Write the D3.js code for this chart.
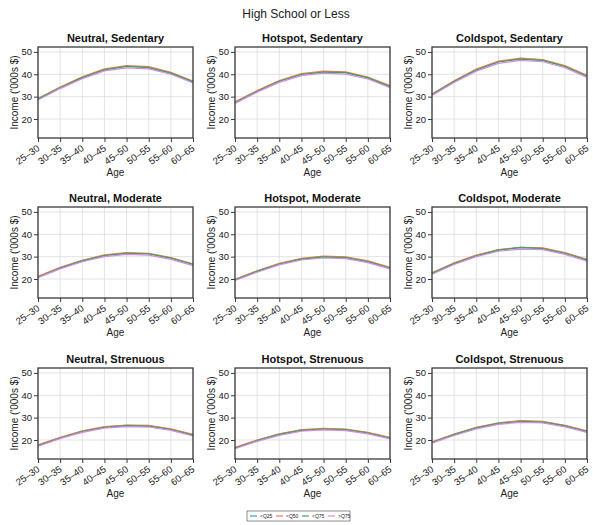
<!DOCTYPE html>
<html>
<head>
    <title>High School or Less</title>
    <script src="https://d3js.org/d3.v7.min.js"></script>
    <style>
        body { margin: 0; background: #fff; }
        svg { font-family: "Liberation Sans", Arial, sans-serif; }
    </style>
</head>
<body>
    <div id="chart"></div>

    <script>
        // Age groups (x categories)
        var ageGroups = ["25\u201330", "30\u201335", "35\u201340", "40\u201345", "45\u201350", "50\u201355", "55\u201360", "60\u201365"];

        // Quartile series names and colours
        var seriesNames = ["<Q25", "<Q50", "<Q75", ">Q75"];
        var seriesColors = ["#2c9fe0", "#f07c4c", "#3ba55c", "#d68ae8"];

        // y ticks
        var yTicks = [20, 30, 40, 50];

        // panel titles, row by row
        var panelTitles = [
            "Neutral, Sedentary", "Hotspot, Sedentary", "Coldspot, Sedentary",
            "Neutral, Moderate", "Hotspot, Moderate", "Coldspot, Moderate",
            "Neutral, Strenuous", "Hotspot, Strenuous", "Coldspot, Strenuous"
        ];

        // income per panel: rows are <Q25, <Q50, <Q75, >Q75
        var neutralSedentary = [
            [29.0, 34.1, 38.6, 42.1, 43.6, 43.1, 40.6, 36.7],
            [29.2, 34.3, 38.9, 42.4, 43.9, 43.4, 40.9, 37.0],
            [28.9, 34.0, 38.5, 42.0, 43.5, 43.0, 40.5, 36.6],
            [28.5, 33.6, 38.0, 41.5, 42.9, 42.4, 40.0, 36.1]
        ];
        var hotspotSedentary = [
            [27.5, 32.5, 37.0, 40.0, 41.1, 40.8, 38.5, 34.6],
            [27.7, 32.7, 37.2, 40.3, 41.4, 41.1, 38.8, 34.9],
            [27.4, 32.4, 36.9, 39.9, 41.0, 40.7, 38.4, 34.5],
            [27.0, 32.0, 36.4, 39.4, 40.5, 40.1, 37.9, 34.0]
        ];
        var coldspotSedentary = [
            [31.0, 36.9, 42.0, 45.6, 46.9, 46.3, 43.6, 39.2],
            [31.2, 37.1, 42.3, 45.9, 47.2, 46.6, 43.9, 39.5],
            [30.9, 36.8, 41.9, 45.5, 46.8, 46.2, 43.5, 39.1],
            [30.5, 36.3, 41.4, 44.9, 46.2, 45.6, 42.9, 38.6]
        ];
        var neutralModerate = [
            [21.0, 25.0, 28.2, 30.6, 31.6, 31.3, 29.4, 26.6],
            [21.2, 25.2, 28.4, 30.8, 31.8, 31.5, 29.6, 26.8],
            [20.9, 24.9, 28.1, 30.5, 31.5, 31.2, 29.3, 26.5],
            [20.6, 24.5, 27.7, 30.0, 31.0, 30.7, 28.8, 26.0]
        ];
        var hotspotModerate = [
            [19.7, 23.5, 26.8, 29.0, 30.0, 29.7, 27.9, 25.0],
            [19.9, 23.7, 27.0, 29.2, 30.2, 29.9, 28.1, 25.2],
            [19.6, 23.4, 26.7, 28.9, 29.9, 29.6, 27.8, 24.9],
            [19.3, 23.0, 26.3, 28.5, 29.4, 29.1, 27.3, 24.5]
        ];
        var coldspotModerate = [
            [22.6, 27.0, 30.5, 33.0, 34.0, 33.7, 31.6, 28.6],
            [22.8, 27.2, 30.7, 33.2, 34.2, 33.9, 31.8, 28.8],
            [22.5, 26.9, 30.4, 32.9, 34.1, 33.6, 31.5, 28.5],
            [22.1, 26.5, 30.0, 32.4, 33.4, 33.1, 31.0, 28.0]
        ];
        var neutralStrenuous = [
            [17.6, 21.0, 23.9, 25.8, 26.5, 26.3, 24.8, 22.3],
            [17.8, 21.2, 24.1, 26.0, 26.7, 26.5, 25.0, 22.5],
            [17.5, 20.9, 23.8, 25.7, 26.4, 26.2, 24.7, 22.2],
            [17.2, 20.6, 23.4, 25.3, 26.0, 25.8, 24.3, 21.8]
        ];
        var hotspotStrenuous = [
            [16.5, 19.8, 22.6, 24.4, 25.0, 24.7, 23.2, 21.0],
            [16.7, 20.0, 22.8, 24.6, 25.2, 24.9, 23.4, 21.2],
            [16.4, 19.7, 22.5, 24.3, 24.9, 24.6, 23.1, 20.9],
            [16.1, 19.4, 22.1, 23.9, 24.5, 24.2, 22.7, 20.5]
        ];
        var coldspotStrenuous = [
            [19.0, 22.5, 25.5, 27.5, 28.4, 28.1, 26.4, 23.9],
            [19.2, 22.7, 25.7, 27.7, 28.7, 28.3, 26.6, 24.1],
            [18.9, 22.4, 25.4, 27.4, 28.3, 28.0, 26.3, 23.8],
            [18.6, 22.0, 25.0, 27.0, 27.9, 27.6, 25.9, 23.4]
        ];

        var panelData = [
            neutralSedentary, hotspotSedentary, coldspotSedentary,
            neutralModerate, hotspotModerate, coldspotModerate,
            neutralStrenuous, hotspotStrenuous, coldspotStrenuous
        ];

        // layout
        var width = 593, height = 525;
        var colLeft = [38, 235, 432];
        var rowTop = [47, 207, 368];
        var plotW = 155, plotH = 91;
        var frameColor = "#3a3a3a";

        var svg = d3.select("#chart")
            .append("svg")
            .attr("width", width)
            .attr("height", height);

        // main title
        svg.append("text")
            .attr("x", 296)
            .attr("y", 18)
            .attr("text-anchor", "middle")
            .style("font-size", "12px")
            .style("fill", "#222")
            .text("High School or Less");

        var x = d3.scalePoint().domain(ageGroups).range([0, plotW]);
        var y = d3.scaleLinear().domain([11.5, 52.2]).range([plotH, 0]);

        var line = d3.line()
            .x(function(d, i) { return x(ageGroups[i]); })
            .y(function(d) { return y(d); });

        panelData.forEach(function(series, p) {
            var row = Math.floor(p / 3), col = p % 3;
            var g = svg.append("g")
                .attr("transform", "translate(" + colLeft[col] + "," + rowTop[row] + ")");

            // grid
            g.selectAll(".vgrid")
                .data(ageGroups)
                .enter()
                .append("line")
                .attr("x1", function(d) { return x(d); })
                .attr("x2", function(d) { return x(d); })
                .attr("y1", 0)
                .attr("y2", plotH)
                .style("stroke", "#dcdcdc")
                .style("stroke-width", 0.8);
            g.selectAll(".hgrid")
                .data(yTicks)
                .enter()
                .append("line")
                .attr("x1", 0)
                .attr("x2", plotW)
                .attr("y1", function(d) { return y(d); })
                .attr("y2", function(d) { return y(d); })
                .style("stroke", "#dcdcdc")
                .style("stroke-width", 0.8);

            // lines
            g.selectAll(".series")
                .data(series)
                .enter()
                .append("path")
                .attr("d", line)
                .style("fill", "none")
                .style("stroke", function(d, i) { return seriesColors[i]; })
                .style("stroke-width", 1.2);

            // axes
            var xAxis = g.append("g")
                .attr("transform", "translate(0," + plotH + ")")
                .call(d3.axisBottom(x).tickSize(4).tickPadding(2));
            xAxis.selectAll("text")
                .attr("text-anchor", "end")
                .attr("dy", "0.35em")
                .attr("transform", "translate(0,9) rotate(-35)")
                .attr("x", 0)
                .attr("y", 0);

            var yAxis = g.append("g")
                .call(d3.axisLeft(y).tickValues(yTicks).tickSize(4).tickPadding(2));

            [xAxis, yAxis].forEach(function(a) {
                a.select(".domain").remove();
                a.selectAll("line").style("stroke", frameColor);
                a.selectAll("text")
                    .style("font-size", "9.5px")
                    .style("fill", "#222")
                    .style("font-family", "Liberation Sans, Arial, sans-serif");
            });

            // frame
            g.append("rect")
                .attr("width", plotW)
                .attr("height", plotH)
                .style("fill", "none")
                .style("stroke", frameColor)
                .style("stroke-width", 1.3);

            // panel title
            g.append("text")
                .attr("x", plotW / 2)
                .attr("y", -5)
                .attr("text-anchor", "middle")
                .style("font-size", "11px")
                .style("font-weight", "bold")
                .style("fill", "#111")
                .text(panelTitles[p]);

            // axis labels
            g.append("text")
                .attr("x", plotW / 2)
                .attr("y", plotH + 38)
                .attr("text-anchor", "middle")
                .style("font-size", "10px")
                .style("fill", "#222")
                .text("Age");
            g.append("text")
                .attr("transform", "translate(-20," + plotH / 2 + ") rotate(-90)")
                .attr("text-anchor", "middle")
                .style("font-size", "10px")
                .style("fill", "#222")
                .text("Income ('000s $)");
        });

        // legend
        var legend = svg.append("g").attr("transform", "translate(247,511)");
        legend.append("rect")
            .attr("width", 103)
            .attr("height", 10)
            .style("fill", "#fff")
            .style("stroke", "#444")
            .style("stroke-width", 0.6);
        var item = legend.selectAll(".item")
            .data(seriesNames)
            .enter()
            .append("g")
            .attr("transform", function(d, i) { return "translate(" + (3 + i * 26) + ",5)"; });
        item.append("line")
            .attr("x1", 0)
            .attr("x2", 7)
            .style("stroke", function(d, i) { return seriesColors[i]; })
            .style("stroke-width", 1.2);
        item.append("text")
            .attr("x", 10)
            .attr("dy", "0.35em")
            .style("font-size", "5px")
            .style("fill", "#222")
            .text(function(d) { return d; });
    </script>
</body>
</html>
